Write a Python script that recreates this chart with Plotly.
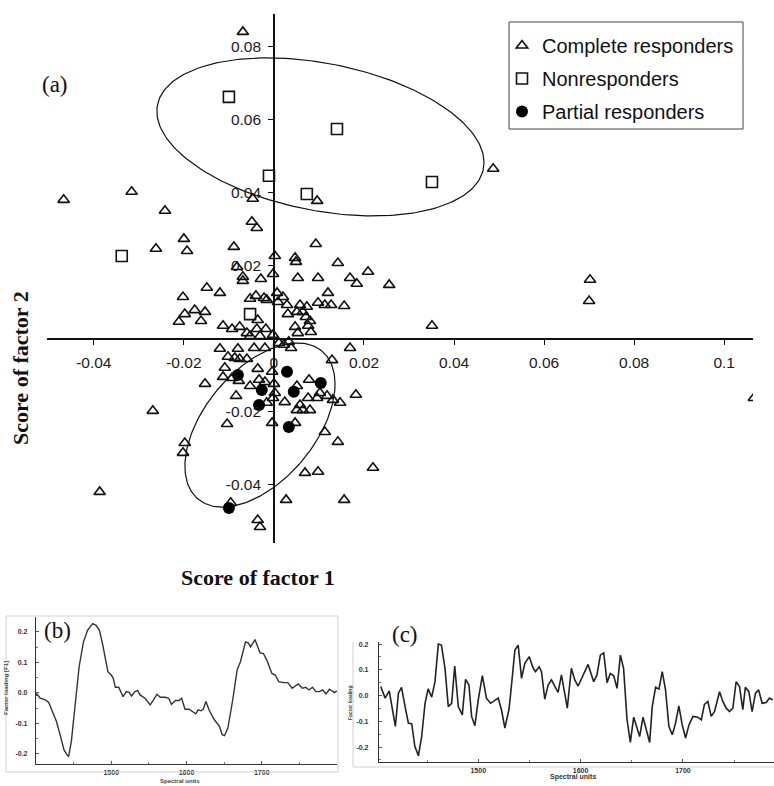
import numpy as np
import plotly.graph_objects as go

W, H = 774, 786

# ---------------- panel (a) data ----------------
complete_x = [-0.0069, -0.0467, -0.0316, -0.0242, -0.0047, 0.0096, -0.0049, -0.0038, -0.0200, -0.0262,
              -0.0193, -0.0089, 0.0093, 0.0002, 0.0047, 0.0049, 0.0142, -0.0082, -0.0069, -0.0069,
              -0.0029, -0.0002, 0.0053, 0.0098, 0.0169, 0.0209, 0.0184, 0.0256, 0.0487, 0.0702,
              0.0700, 0.0351, 0.1066, -0.0149, -0.0120, 0.0120, -0.0202, -0.0053, -0.0040, -0.0022,
              -0.0016, 0.0007, 0.0020, 0.0009, 0.0029, 0.0058, 0.0073, 0.0098, 0.0113, 0.0127,
              0.0156, -0.0176, -0.0153, -0.0198, -0.0211, -0.0162, -0.0036, 0.0031, 0.0051, 0.0064,
              0.0071, 0.0080, -0.0113, -0.0093, -0.0076, -0.0060, -0.0038, -0.0018, 0.0047, 0.0053,
              0.0082, 0.0076, -0.0053, -0.0031, -0.0002, 0.0011, 0.0022, 0.0033, 0.0038, -0.0120,
              -0.0080, -0.0044, -0.0020, 0.0169, -0.0102, -0.0087, -0.0076, -0.0060, -0.0109, -0.0113,
              -0.0093, -0.0078, -0.0153, -0.0036, -0.0004, 0.0129, -0.0033, -0.0053, -0.0020, 0.0000,
              0.0002, -0.0002, -0.0084, -0.0016, 0.0078, 0.0051, 0.0102, 0.0118, 0.0096, 0.0076,
              0.0131, 0.0147, 0.0024, 0.0058, 0.0051, 0.0064, 0.0080, 0.0182, -0.0269, -0.0104,
              -0.0004, 0.0047, 0.0113, 0.0142, -0.0198, -0.0202, -0.0387, 0.0069, 0.0098, 0.0220,
              0.0027, 0.0156, -0.0036, -0.0031, -0.0096]
complete_y = [0.0841, 0.0381, 0.0403, 0.0351, 0.0384, 0.0378, 0.0321, 0.0304, 0.0274, 0.0247,
              0.0241, 0.0252, 0.0260, 0.0227, 0.0222, 0.0211, 0.0208, 0.0197, 0.0170, 0.0159,
              0.0164, 0.0178, 0.0167, 0.0167, 0.0167, 0.0184, 0.0151, 0.0148, 0.0466, 0.0162,
              0.0104, 0.0036, -0.0162, 0.0140, 0.0126, 0.0126, 0.0115, 0.0110, 0.0118, 0.0112,
              0.0107, 0.0126, 0.0115, 0.0101, 0.0093, 0.0093, 0.0088, 0.0099, 0.0093, 0.0093,
              0.0090, 0.0079, 0.0074, 0.0068, 0.0047, 0.0049, 0.0052, 0.0068, 0.0074, 0.0074,
              0.0060, 0.0049, 0.0036, 0.0027, 0.0033, 0.0016, 0.0027, 0.0027, 0.0033, 0.0016,
              0.0019, 0.0036, 0.0008, 0.0008, 0.0011, -0.0011, -0.0016, -0.0008, -0.0025, -0.0027,
              -0.0027, -0.0025, -0.0025, -0.0025, -0.0049, -0.0052, -0.0055, -0.0055, -0.0079, -0.0104,
              -0.0107, -0.0115, -0.0123, -0.0082, -0.0090, -0.0058, -0.0112, -0.0129, -0.0118, -0.0123,
              -0.0148, -0.0162, -0.0156, -0.0175, -0.0112, -0.0129, -0.0148, -0.0156, -0.0162, -0.0162,
              -0.0167, -0.0175, -0.0173, -0.0181, -0.0195, -0.0195, -0.0195, -0.0153, -0.0197, -0.0233,
              -0.0230, -0.0230, -0.0255, -0.0282, -0.0285, -0.0312, -0.0419, -0.0367, -0.0364, -0.0353,
              -0.0441, -0.0441, -0.0496, -0.0515, -0.0449]

non_x = [-0.0100, 0.0140, -0.0011, 0.0073, 0.0351, -0.0338, -0.0053]
non_y = [0.0663, 0.0575, 0.0447, 0.0397, 0.0430, 0.0227, 0.0068]

partial_x = [-0.0080, 0.0029, 0.0104, -0.0027, 0.0044, -0.0033, 0.0033, -0.0100]
partial_y = [-0.0099, -0.0090, -0.0121, -0.0140, -0.0145, -0.0181, -0.0241, -0.0463]

# confidence ellipses: centre, half-extent in x, half-extent in y, correlation
ell_non = dict(cx=0.01033, cy=0.05534, rx=0.03633, ry=0.02164, rho=-0.324)
ell_partial = dict(cx=-0.0031, cy=-0.0236, rx=0.01667, ry=0.02247, rho=0.50)

a_xticks = [-0.04, -0.02, 0, 0.02, 0.04, 0.06, 0.08, 0.1]
a_xticktext = ["-0.04", "-0.02", "0", "0.02", "0.04", "0.06", "0.08", "0.1"]
a_yticks = [-0.04, -0.02, 0.02, 0.04, 0.06, 0.08]
a_yticktext = ["-0.04", "-0.02", "0.02", "0.04", "0.06", "0.08"]

# ---------------- panel (b) data ----------------
b_x = [1400, 1401.1, 1405.6, 1412.4, 1416.9, 1421.4, 1427.2, 1432.6, 1437.1, 1441.6, 1443.4, 1447.0,
       1451.9, 1457.3, 1463.1, 1468.5, 1475.3, 1479.8, 1484.3, 1488.8, 1495.5, 1500.0, 1502.7, 1505.4,
       1509.9, 1515.7, 1520.2, 1523.8, 1527.0, 1531.5, 1535.1, 1538.2, 1544.9, 1551.7, 1556.2, 1560.7,
       1565.2, 1571.9, 1576.4, 1580.0, 1585.4, 1589.9, 1593.5, 1598.0, 1603.4, 1607.9, 1612.4, 1615.5,
       1619.1, 1622.2, 1625.8, 1630.3, 1637.1, 1643.8, 1647.4, 1650.5, 1655.0, 1661.8, 1667.2, 1671.7,
       1678.4, 1682.0, 1685.2, 1691.0, 1697.7, 1702.2, 1706.7, 1713.5, 1718.0, 1722.5, 1729.2, 1734.6,
       1740.4, 1748.5, 1753.9, 1758.4, 1762.9, 1767.4, 1771.9, 1776.4, 1780.9, 1785.4, 1789.9, 1796.6,
       1800]
b_y = [-0.010, -0.0033, -0.0174, -0.0228, -0.0315, -0.0609, -0.0935, -0.1424, -0.1859, -0.2043, -0.2076, -0.1587,
       -0.0446, 0.0859, 0.1674, 0.2054, 0.2272, 0.2217, 0.2054, 0.1565, 0.0696, 0.0587, 0.0478, 0.0185,
       0.0185, -0.0120, 0.0043, 0.0022, -0.0098, 0.0043, 0.0076, -0.0065, -0.0174, -0.0391, -0.0228, -0.0043,
       -0.0141, -0.0141, -0.0174, -0.0370, -0.0250, -0.0250, -0.0174, -0.0533, -0.0533, -0.0609, -0.0685, -0.0554,
       -0.0587, -0.0533, -0.0283, -0.0576, -0.0880, -0.1098, -0.1370, -0.1402, -0.1152, -0.0174, 0.0750, 0.1022,
       0.1674, 0.1641, 0.1511, 0.1750, 0.1315, 0.1293, 0.1076, 0.0641, 0.0587, 0.0370, 0.0337, 0.0337,
       0.0152, 0.0293, 0.0152, 0.0185, 0.0098, 0.0185, 0.0043, 0.0043, 0.0098, -0.0033, 0.0120, 0.0011,
       0.0065]

# ---------------- panel (c) data ----------------
c_x = [1404.7, 1409, 1413, 1419, 1422, 1425, 1428.5, 1431.7, 1435, 1438, 1441.5, 1444.7, 1448, 1451,
       1454.5, 1457.7, 1461, 1464, 1467.5, 1470.7, 1474, 1477, 1480.5, 1484.4, 1487.6, 1490.9, 1493.5,
       1496.7, 1500, 1504, 1508, 1512, 1519.5, 1522.8, 1526, 1530, 1532.5, 1535.8, 1539, 1542.3, 1545.5,
       1549.8, 1553.7, 1556, 1559.5, 1561.8, 1565, 1568.3, 1571.5, 1574.8, 1578, 1581.3, 1584.6, 1587,
       1591, 1594.3, 1597.6, 1600.8, 1607.3, 1612.8, 1616, 1619.3, 1622.6, 1625.9, 1629, 1632.4, 1635.6,
       1638.9, 1642, 1645.4, 1648.6, 1651.9, 1655, 1657.7, 1661, 1664, 1667.5, 1670, 1673.3, 1676.6,
       1679.8, 1683, 1686.3, 1689.6, 1692.8, 1696, 1699.3, 1702.6, 1705.9, 1709.8, 1714.6, 1718, 1721,
       1724.4, 1727.6, 1730.9, 1735.8, 1739, 1742.3, 1745.5, 1748.8, 1752, 1755.3, 1758.5, 1761, 1764.4,
       1767.6, 1770.9, 1774, 1777.4, 1781.3, 1784.6, 1787.8]
c_y = [0.035, -0.010, 0.018, -0.120, 0.009, 0.032, -0.043, -0.107, -0.110, -0.197, -0.234, -0.159, -0.030, 0.026,
       -0.006, 0.054, 0.200, 0.196, 0.106, -0.043, -0.030, 0.115, -0.043, -0.075, 0.063, 0.041, -0.081,
       -0.117, -0.017, 0.077, -0.010, -0.030, -0.010, -0.058, -0.126, -0.055, 0.041, 0.177, 0.196, 0.067, 0.125,
       0.151, 0.106, 0.093, 0.112, 0.093, -0.014, 0.041, 0.061, 0.035, 0.012, 0.080, 0.003, -0.049,
       0.106, 0.061, 0.037, 0.067, 0.121, 0.054, 0.080, 0.157, 0.166, 0.050, 0.086, 0.077, 0.028,
       0.157, 0.106, -0.094, -0.182, -0.084, -0.126, -0.159, -0.084, -0.132, -0.182, -0.043, 0.032, 0.025,
       0.093, 0.022, -0.120, -0.152, -0.107, -0.040, -0.114, -0.165, -0.114, -0.081, -0.084, -0.094, -0.034,
       -0.023, -0.081, -0.062, 0.015, -0.023, -0.049, -0.062, -0.049, 0.054, 0.035, -0.055, 0.032, 0.015,
       -0.062, 0.009, 0.022, -0.030, -0.027, -0.010, -0.017]

bc_yticks = [-0.2, -0.1, 0.0, 0.1, 0.2]
bc_yticktext = ["-0.2", "-0.1", "0.0", "0.1", "0.2"]
bc_xticks = [1500, 1600, 1700]

# ---------------- layout helpers ----------------
def px_x(p):
    return p / W

def px_y(p):
    return 1 - p / H

a_xrange = [-0.0504, 0.1064]
a_yrange = [-0.0559, 0.0890]
a_xdom = [px_x(47), px_x(753)]
a_ydom = [px_y(543), px_y(14)]
xaxis_pos = a_ydom[0] + (0 - a_yrange[0]) / (a_yrange[1] - a_yrange[0]) * (a_ydom[1] - a_ydom[0])
yaxis_pos = a_xdom[0] + (0 - a_xrange[0]) / (a_xrange[1] - a_xrange[0]) * (a_xdom[1] - a_xdom[0])


def ellipse(p, n=240):
    t = np.linspace(0, 2 * np.pi, n)
    ex = p["cx"] + p["rx"] * np.cos(t)
    ey = p["cy"] + p["ry"] * (p["rho"] * np.cos(t) + np.sqrt(1 - p["rho"] ** 2) * np.sin(t))
    return ex, ey


fig = go.Figure()

for p in (ell_non, ell_partial):
    ex, ey = ellipse(p)
    fig.add_trace(go.Scatter(x=ex, y=ey, mode="lines", line=dict(color="#111", width=1.2),
                             showlegend=False, hoverinfo="skip", xaxis="x", yaxis="y"))

fig.add_trace(go.Scatter(x=complete_x, y=complete_y, mode="markers", name="Complete responders",
                         legendgroup="g1",
                         marker=dict(symbol="triangle-up-open", size=10, color="#111",
                                     line=dict(width=1.6, color="#111")),
                         xaxis="x", yaxis="y"))
fig.add_trace(go.Scatter(x=non_x, y=non_y, mode="markers", name="Nonresponders",
                         legendgroup="g2",
                         marker=dict(symbol="square-open", size=11, color="#111",
                                     line=dict(width=1.6, color="#111")),
                         xaxis="x", yaxis="y"))
fig.add_trace(go.Scatter(x=partial_x, y=partial_y, mode="markers", name="Partial responders",
                         legendgroup="g3",
                         marker=dict(symbol="circle", size=12, color="#000"),
                         xaxis="x", yaxis="y"))

fig.add_trace(go.Scatter(x=b_x, y=b_y, mode="lines", line=dict(color="#333", width=1.4),
                         showlegend=False, xaxis="x2", yaxis="y2"))
fig.add_trace(go.Scatter(x=c_x, y=c_y, mode="lines", line=dict(color="#222", width=1.6),
                         showlegend=False, xaxis="x3", yaxis="y3"))

tickfont_a = dict(family="Liberation Sans, Arial, sans-serif", size=15.5, color="#1a1a1a")
small_font = dict(family="Liberation Sans, Arial, sans-serif", size=7, color="#333", weight="bold")

fig.update_layout(
    width=W, height=H,
    margin=dict(l=0, r=0, t=0, b=0),
    paper_bgcolor="white", plot_bgcolor="white",
    showlegend=True,
    legend=dict(x=px_x(502), y=px_y(26), xanchor="left", yanchor="top",
                font=dict(family="Liberation Sans, Arial, sans-serif", size=20, color="#111"),
                bgcolor="rgba(0,0,0,0)", borderwidth=0, traceorder="grouped",
                tracegroupgap=4),
    xaxis=dict(domain=a_xdom, range=a_xrange, anchor="free", position=xaxis_pos,
               showline=True, linecolor="#111", linewidth=1.5, showgrid=False, zeroline=False,
               tickvals=a_xticks, ticktext=a_xticktext, ticks="outside", ticklen=5,
               tickwidth=1.3, tickcolor="#111", tickfont=tickfont_a, ticklabelstandoff=5),
    yaxis=dict(domain=a_ydom, range=a_yrange, anchor="free", position=yaxis_pos,
               showline=True, linecolor="#111", linewidth=1.5, showgrid=False, zeroline=False,
               tickvals=a_yticks, ticktext=a_yticktext, ticks="outside", ticklen=5,
               tickwidth=1.3, tickcolor="#111", tickfont=tickfont_a, ticklabelstandoff=4),
    xaxis2=dict(domain=[px_x(36), px_x(337)], range=[1400, 1800], anchor="y2",
                showline=True, linecolor="#333", linewidth=1.2, showgrid=False, zeroline=False,
                tickvals=bc_xticks, ticks="inside", ticklen=3, tickcolor="#555",
                minor=dict(dtick=50, tick0=1400, ticks="inside", ticklen=2, tickcolor="#777"),
                tickfont=small_font, ticklabelstandoff=1),
    yaxis2=dict(domain=[px_y(764), px_y(617)], range=[-0.233, 0.249], anchor="x2",
                showline=True, linecolor="#333", linewidth=1.2, showgrid=False, zeroline=False,
                tickvals=bc_yticks, ticktext=bc_yticktext, ticks="inside", ticklen=3, tickcolor="#555",
                minor=dict(dtick=0.05, tick0=0, ticks="inside", ticklen=2, tickcolor="#777"),
                tickfont=small_font, ticklabelstandoff=6),
    xaxis3=dict(domain=[px_x(379), 1.0], range=[1403, 1789], anchor="y3",
                showline=True, linecolor="#333", linewidth=1.2, showgrid=False, zeroline=False,
                tickvals=bc_xticks, ticks="inside", ticklen=3, tickcolor="#555",
                minor=dict(dtick=50, tick0=1400, ticks="inside", ticklen=2, tickcolor="#777"),
                tickfont=small_font, ticklabelstandoff=1),
    yaxis3=dict(domain=[px_y(762), px_y(642)], range=[-0.258, 0.208], anchor="x3",
                showline=True, linecolor="#333", linewidth=1.2, showgrid=False, zeroline=False,
                tickvals=bc_yticks, ticktext=bc_yticktext, ticks="inside", ticklen=3, tickcolor="#555",
                minor=dict(dtick=0.05, tick0=0, ticks="inside", ticklen=2, tickcolor="#777"),
                tickfont=small_font, ticklabelstandoff=8),
)

# legend frame and panel frames
fig.add_shape(type="rect", xref="paper", yref="paper",
              x0=px_x(509), x1=px_x(743), y0=px_y(129), y1=px_y(22),
              line=dict(color="#444", width=1))
fig.add_shape(type="rect", xref="paper", yref="paper",
              x0=px_x(6), x1=px_x(338), y0=px_y(772), y1=px_y(616),
              line=dict(color="#cfcfcf", width=1))
fig.add_shape(type="line", xref="paper", yref="paper",
              x0=px_x(353), x1=px_x(353), y0=px_y(767), y1=px_y(642),
              line=dict(color="#cfcfcf", width=1))
fig.add_shape(type="line", xref="paper", yref="paper",
              x0=px_x(353), x1=1.0, y0=px_y(767), y1=px_y(767),
              line=dict(color="#cfcfcf", width=1))

serif = "Liberation Serif, Times New Roman, serif"
ann = [
    dict(text="(a)", x=px_x(55), y=px_y(85), font=dict(family=serif, size=23, color="#111")),
    dict(text="(b)", x=px_x(57), y=px_y(630), font=dict(family=serif, size=23, color="#111")),
    dict(text="(c)", x=px_x(405), y=px_y(634), font=dict(family=serif, size=23, color="#111")),
    dict(text="<b>Score of factor 1</b>", x=px_x(258), y=px_y(577),
         font=dict(family=serif, size=22, color="#111")),
    dict(text="<b>Score of factor 2</b>", x=px_x(20), y=px_y(368), textangle=-90,
         font=dict(family=serif, size=22, color="#111")),
    dict(text="Factor loading [F1]", x=px_x(6), y=px_y(688), textangle=-90,
         font=dict(family="Liberation Sans, Arial, sans-serif", size=6, color="#444", weight="bold")),
    dict(text="Spectral units", x=px_x(180), y=px_y(781),
         font=dict(family="Liberation Sans, Arial, sans-serif", size=6, color="#444", weight="bold")),
    dict(text="Factor loading", x=px_x(350), y=px_y(703), textangle=-90,
         font=dict(family="Liberation Sans, Arial, sans-serif", size=5, color="#444", weight="bold")),
    dict(text="Spectral units", x=px_x(573), y=px_y(777),
         font=dict(family="Liberation Sans, Arial, sans-serif", size=7, color="#333", weight="bold")),
]
for a in ann:
    fig.add_annotation(xref="paper", yref="paper", showarrow=False, xanchor="center", yanchor="middle", **a)

fig.write_html("out.html", config={"displayModeBar": False},
               post_script="document.body.style.margin='0';document.body.style.overflow='hidden';")
